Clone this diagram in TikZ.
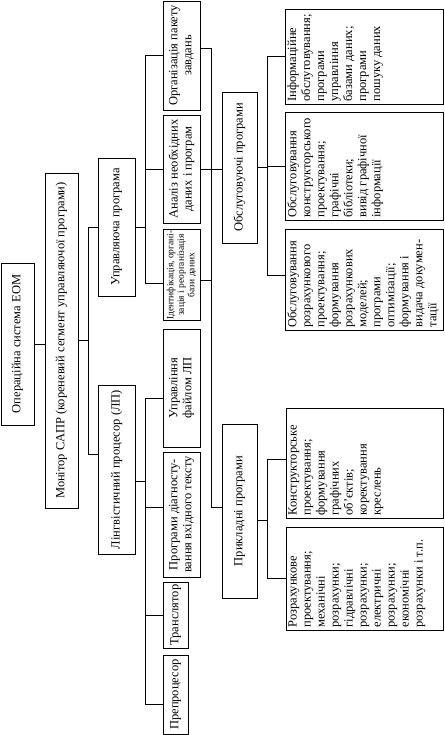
\documentclass[tikz,border=0pt]{standalone}
\usepackage{fontspec}
\setmainfont{Liberation Serif}
\usetikzlibrary{calc}

\begin{document}
\begin{tikzpicture}[x=1pt,y=-1pt,line width=0.9pt,font=\fontsize{12.5}{14}\selectfont,
    blok/.style={draw,rotate=90,inner sep=1pt,align=center},
    spys/.style={draw,rotate=90,inner sep=2pt}]
  \useasboundingbox (0,0) rectangle (444,735);
  % centred boxes: name/centre x/centre y/length/thickness/text
  \foreach \nm/\cx/\cy/\dl/\tw/\txt in
      {os/17.5/344/162/33/{Операційна система ЕОМ},
       mon/61.5/340.5/335/33/{Монітор САПР (кореневий сегмент управляючої програми)},
       upr/116.5/227/138/37/{Управляюча програма},
       lp/116.5/469.5/169/37/{Лінгвістичний процесор (ЛП)},
       org/181.5/55.5/109/37/{Організація пакету\\завдань},
       anal/181.5/169/108/37/{Аналіз необхідних\\даних і програм},
       fajl/181.5/388/118/37/{Управління\\файлом ЛП},
       diag/181.5/514.5/125/37/{Програми діагносту-\\вання вхідного тексту},
       trans/175.5/615/66/25/{Транслятор},
       prep/175.5/694.5/79/25/{Препроцесор},
       obsl/239.5/167.5/151/35/{Обслуговуючі програми},
       prykl/239.5/511/174/35/{Прикладні програми}}{
    \node[blok,minimum width=\dl,minimum height=\tw] (\nm) at (\cx,\cy) {\txt};
  }
  \node[blok,minimum width=90,minimum height=37,font=\fontsize{9.5}{10.5}\selectfont]
    (ident) at (181.5,275) {Ідентифікація, органі-\\зація і реорганізація\\бази даних};
  % lists on the right
  \foreach \nm/\cx/\cy/\dl/\tw/\txt in
      {inf/364/56.5/95/158/{Інформаційне\\обслуговування;\\програми\\управління\\базами даних;\\програми\\пошуку даних},
       obk/364/166/108/158/{Обслуговування\\конструкторського\\проектування;\\графічні\\бібліотеки;\\вивід графічної\\інформації},
       obr/364/279.5/101/158/{Обслуговування\\розрахункового\\проектування;\\формування\\розрахункових\\моделей;\\програми\\оптимізації;\\формування і\\видача докумен-\\тації},
       kon/364.5/463/110/157/{Конструкторське\\проектування;\\формування\\графічних\\об’єктів;\\коректування\\креслень},
       roz/364.5/578.5/103/157/{Розрахункове\\проектування;\\механічні\\розрахунки;\\гідравлічні\\розрахунки;\\електричні\\розрахунки;\\економічні\\розрахунки і т.п.}}{
    \node[spys,minimum width=\dl,minimum height=\tw] (\nm) at (\cx,\cy)
      {\parbox[c][\dimexpr\tw pt-5pt\relax][t]{\dimexpr\dl pt-5pt\relax}{\raggedright\txt}};
  }
  \coordinate (s1) at (88,0);
  \coordinate (s2) at (145.5,0);
  \coordinate (s3) at (211,0);
  \coordinate (s4) at (267,0);
  \coordinate (lpl) at ($(lp.north)+(0,-15)$);
  \coordinate (lpr) at ($(lp.south)+(0,12)$);
  \coordinate (idl) at ($(ident.north)+(0,8)$);
  \coordinate (idr) at ($(ident.south)+(0,5)$);
  \coordinate (orr) at ($(org.south)+(0,-7)$);
  \coordinate (fjl) at ($(fajl.north)+(0,10)$);
  \coordinate (dgl) at ($(diag.north)+(0,-7)$);
  \coordinate (prl) at ($(prep.north)+(0,10)$);
  \coordinate (pkl) at ($(prykl.north)+(0,-4)$);
  \coordinate (pkr) at ($(prykl.south)+(0,9)$);
  \coordinate (orl) at ($(obr.north)+(0,-4)$);
  \coordinate (knl) at ($(kon.north)+(0,-4)$);
  \draw (os.south) -- (os.south -| mon.north);
  \draw (mon.south) -- (mon.south -| s1);
  \draw (upr.north) -| (s1 |- lpl) -- (lpl);
  \draw (upr.south) -- (upr.south -| s2);
  \draw (org.north) -| (s2 |- idl) -- (idl);
  \draw (anal.north) -- (anal.north -| s2);
  \draw (lpr) -- (lpr -| s2);
  \draw (fjl) -| (s2 |- prl) -- (prl);
  \draw (dgl) -- (dgl -| s2);
  \draw (trans.north) -- (trans.north -| s2);
  \draw (orr) -| (s3 |- pkl) -- (pkl);
  \draw (anal.south) -- (anal.south -| obsl.north);
  \draw (idr) -- (idr -| s3);
  \draw (obsl.south) -- (obsl.south -| s4);
  \draw (inf.north) -| (s4 |- orl) -- (orl);
  \draw (obk.north) -- (obk.north -| s4);
  \draw (pkr) -- (pkr -| s4);
  \draw (knl) -| (s4 |- roz.north) -- (roz.north);
\end{tikzpicture}
\end{document}
